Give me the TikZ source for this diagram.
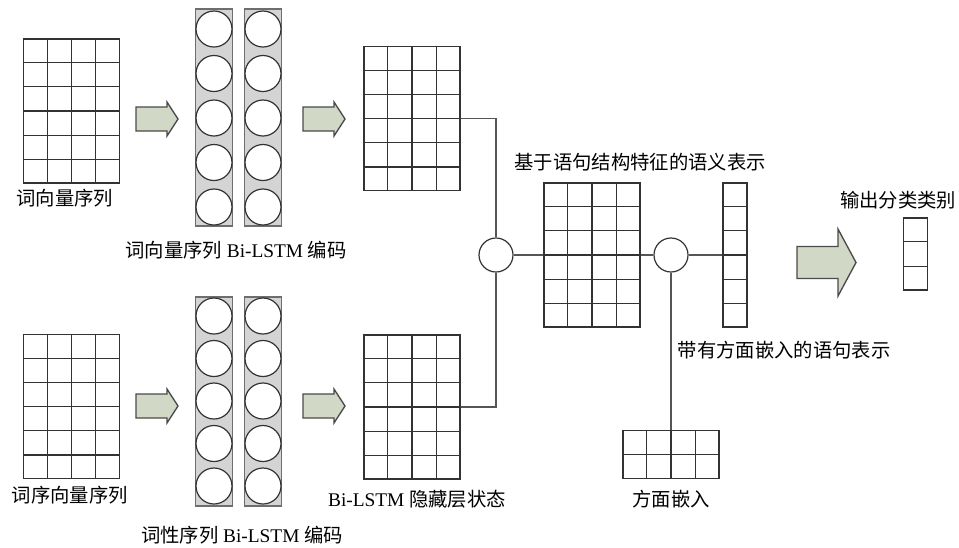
\documentclass[tikz,border=0pt]{standalone}
\usepackage{fontspec}
\setmainfont{Liberation Serif}
\newfontfamily\cjk{Noto Sans CJK SC}
\usetikzlibrary{calc}

\definecolor{gridcol}{HTML}{333333}
\definecolor{linkcol}{HTML}{555555}
\definecolor{lstmfill}{HTML}{D4D4D4}
\definecolor{lstmedge}{HTML}{6E6E6E}
\definecolor{arrowfill}{HTML}{D2D8C6}
\definecolor{arrowedge}{HTML}{4A4A4A}

% internal lines of a cell matrix: node name, columns, rows
\newcommand{\cellgrid}[3]{%
  \ifnum#2>1
    \pgfmathtruncatemacro{\lastcol}{#2-1}
    \foreach \i in {1,...,\lastcol}
      \draw[gridcol, line width=0.9pt]
        ($(#1.north west)!\i/#2!(#1.north east)$) -- ($(#1.south west)!\i/#2!(#1.south east)$);
  \fi
  \ifnum#3>1
    \pgfmathtruncatemacro{\lastrow}{#3-1}
    \foreach \j in {1,...,\lastrow}
      \draw[gridcol, line width=0.9pt]
        ($(#1.north west)!\j/#3!(#1.south west)$) -- ($(#1.north east)!\j/#3!(#1.south east)$);
  \fi
}

% block arrow: left x, centre y, length, shaft height, head height, head length
\newcommand{\blockarrow}[6]{%
  \draw[arrowedge, fill=arrowfill, line width=1pt, line join=miter]
    ({#1},{#2-#4/2}) -- ({#1+#3-#6},{#2-#4/2}) -- ({#1+#3-#6},{#2-#5/2})
    -- ({#1+#3},{#2}) -- ({#1+#3-#6},{#2+#5/2}) -- ({#1+#3-#6},{#2+#4/2})
    -- ({#1},{#2+#4/2}) -- cycle;
}

\tikzset{
  cellbox/.style 2 args={draw=gridcol, line width=0.9pt, inner sep=0pt, fill=white,
    minimum width=#1*18pt, minimum height=#2*18pt},
  lstmcol/.style={draw=lstmedge, fill=lstmfill, line width=0.9pt, inner sep=0pt,
    minimum width=27.75pt, minimum height=#1},
  unit/.style={circle, draw=gridcol, fill=white, line width=0.9pt, inner sep=0pt,
    minimum size=27pt},
  merge/.style={circle, draw=gridcol, fill=white, line width=0.9pt, inner sep=0pt,
    minimum size=25.5pt},
  lbl/.style={inner sep=1pt, font=\fontsize{14.5}{17}\selectfont},
  link/.style={draw=linkcol, line width=0.9pt}
}

\begin{document}
\begin{tikzpicture}[x=0.75pt, y=-0.75pt]
  \useasboundingbox (0,0) rectangle (959,547);

  % --- input sequences ---
  \node[cellbox={4}{6}] (wordvec) at (71.5,111) {};
  \node[cellbox={4}{6}] (ordervec) at (71.5,406.5) {};
  \cellgrid{wordvec}{4}{6}
  \cellgrid{ordervec}{4}{6}
  \node[lbl] (wordvecLbl) at (65,198) {\cjk 词向量序列};
  \node[lbl] (ordervecLbl) at (70,495) {\cjk 词序向量序列};

  \blockarrow{136}{119}{42}{24}{34}{11}
  \blockarrow{136}{406}{42}{24}{34}{11}

  % --- Bi-LSTM encoders ---
  \foreach \cx [count=\k] in {214,263} {
    \node[lstmcol=162.75pt] (lstmA\k) at (\cx,117.5) {};
    \foreach \cy [count=\n] in {29,73.5,118,162.5,207}
      \node[unit] (lstmA\k-\n) at (\cx,\cy) {};
    \node[lstmcol=156.75pt] (lstmB\k) at (\cx,401.5) {};
    \foreach \cy [count=\n] in {316,358.5,401,443.5,486}
      \node[unit] (lstmB\k-\n) at (\cx,\cy) {};
  }
  \node[lbl] (lstmALbl) at (236,250) {{\cjk 词向量序列} Bi-LSTM {\cjk 编码}};
  \node[lbl] (lstmBLbl) at (242,535) {{\cjk 词性序列} Bi-LSTM {\cjk 编码}};

  \blockarrow{303}{119}{42}{24}{34}{11}
  \blockarrow{303}{406}{42}{24}{34}{11}

  % --- hidden states ---
  \node[cellbox={4}{6}] (hidA) at (412,118.5) {};
  \node[cellbox={4}{6}] (hidB) at (412,407) {};
  \cellgrid{hidA}{4}{6}
  \cellgrid{hidB}{4}{6}
  \node[lbl] (hidLbl) at (417,499) {Bi-LSTM {\cjk 隐藏层状态}};

  % --- merging ---
  \node[merge] (mergeA) at (496,255) {};
  \node[cellbox={4}{6}] (sem) at (592,255) {};
  \cellgrid{sem}{4}{6}
  \node[lbl] (semLbl) at (640,162) {\cjk 基于语句结构特征的语义表示};

  \node[merge] (mergeB) at (671,255) {};
  \node[cellbox={1}{6}] (sent) at (735,255) {};
  \cellgrid{sent}{1}{6}
  \node[lbl] (sentLbl) at (784,350) {\cjk 带有方面嵌入的语句表示};

  \node[cellbox={4}{2}] (aspect) at (671,454.5) {};
  \cellgrid{aspect}{4}{2}
  \node[lbl] (aspectLbl) at (671,499) {\cjk 方面嵌入};

  \draw[link] (hidA.east) -| (mergeA.north);
  \draw[link] (hidB.east) -| (mergeA.south);
  \draw[link] (mergeA.east) -- (sem.west);
  \draw[link] (sem.east) -- (mergeB.west);
  \draw[link] (mergeB.east) -- (sent.west);
  \draw[link] (mergeB.south) -- (aspect.north);

  % --- output ---
  \blockarrow{797}{262.5}{59}{32}{67}{18}
  \node[cellbox={1}{3}] (outcls) at (915.5,254) {};
  \cellgrid{outcls}{1}{3}
  \node[lbl] (outLbl) at (898,200) {\cjk 输出分类类别};
\end{tikzpicture}
\end{document}
